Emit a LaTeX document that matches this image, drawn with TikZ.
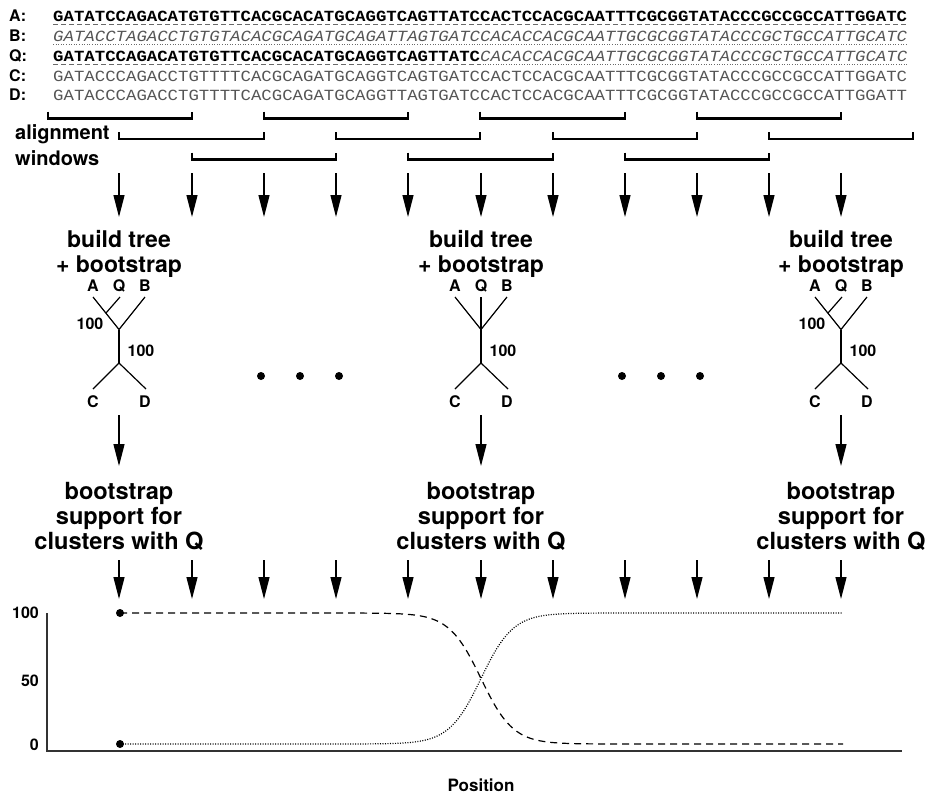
\documentclass[tikz,border=0pt]{standalone}
\usepackage{fontspec}
\usepackage{graphicx}
\setmainfont{TeX Gyre Heros}
\newfontfamily\seqfont{Liberation Mono}
\usetikzlibrary{arrows.meta}
\definecolor{seqgray}{HTML}{555555}
\definecolor{linegray}{HTML}{6A6A6A}
\definecolor{axisgray}{HTML}{333333}

\begin{document}
\begin{tikzpicture}[x=1pt,y=-1pt,
  flow/.style={line width=1.3pt,-{Triangle[length=22pt,width=11pt]}},
  win/.style={line width=2.2pt},
  branch/.style={line width=1.2pt},
  rowlabel/.style={font=\fontsize{16}{16}\selectfont\bfseries,anchor=base west,inner sep=0pt},
  seq/.style={font=\seqfont\fontsize{15.5}{15.5}\selectfont,anchor=base west,inner sep=0pt},
  tlabel/.style={font=\fontsize{16}{16}\selectfont\bfseries,inner sep=0pt},
  bigtext/.style={font=\fontsize{23}{25}\selectfont\bfseries,align=center,inner sep=0pt,anchor=north},
  suptext/.style={font=\fontsize{23.6}{25}\selectfont\bfseries,align=center,inner sep=0pt,anchor=north},
  uldash/.style={linegray,line width=0.9pt,dash pattern=on 5pt off 3pt},
  uldot/.style={linegray,line width=0.9pt,dash pattern=on 1pt off 1.6pt},
  dot/.style={circle,fill=black,inner sep=0pt,minimum size=8pt}
]
\useasboundingbox (0,0) rectangle (927,796);

% ---------- sequence rows ----------
\node[rowlabel] (lA) at (9,21)  {A:};
\node[rowlabel] (lB) at (9,41.5){B:};
\node[rowlabel] (lQ) at (9,61.5){Q:};
\node[rowlabel] (lC) at (9,81)  {C:};
\node[rowlabel] (lD) at (9,100.5){D:};

\node[seq] (sA) at (53,21) {\resizebox{854pt}{\height}{\bfseries GATATCCAGACATGTGTTCACGCACATGCAGGTCAGTTATCCACTCCACGCAATTTCGCGGTATACCCGCCGCCATTGGATC}};
\node[seq,text=seqgray] (sB) at (53,41.5) {\resizebox{854pt}{\height}{\itshape GATACCTAGACCTGTGTACACGCAGATGCAGATTAGTGATCCACACCACGCAATTGCGCGGTATACCCGCTGCCATTGCATC}};
\node[seq] (sQ) at (53,61.5) {\resizebox{854pt}{\height}{\bfseries GATATCCAGACATGTGTTCACGCACATGCAGGTCAGTTATC\mdseries\itshape\color{seqgray}CACACCACGCAATTGCGCGGTATACCCGCTGCCATTGCATC}};
\node[seq,text=seqgray] (sC) at (53,81) {\resizebox{854pt}{\height}{GATACCCAGACCTGTTTTCACGCAGATGCAGGTCAGTGATCCACTCCACGCAATTTCGCGGTATACCCGCCGCCATTGGATC}};
\node[seq,text=seqgray] (sD) at (53,100.5) {\resizebox{854pt}{\height}{GATACCCAGACCTGTTTTCACGCAGATGCAGGTTAGTGATCCACTCCACGCAATTTCGCGGTATACCCGCCGCCATTGGATT}};

% underlines marking the origin of each stretch
\draw[uldash] (53,24) -- (907,24);
\draw[uldot]  (53,44.5) -- (907,44.5);
\draw[uldash] (53,64.5) -- (480,64.5);
\draw[uldot]  (480,64.5) -- (907,64.5);

% ---------- alignment windows ----------
\node[font=\fontsize{20}{26}\selectfont\bfseries,align=left,inner sep=0pt,anchor=north west] (winlabel) at (15,124) {alignment\\windows};
\foreach \a/\b/\y in {48/192/118.5, 264/408/118.5, 480/625/118.5, 697/841/118.5,
                      119/264/139, 336/480/139, 553/697/139, 769/913/139,
                      192/336/159.5, 408/553/159.5, 625/769/159.5}
  \draw[win] (\a,\y-7) -- (\a,\y) -- (\b,\y) -- (\b,\y-7);

% ---------- arrows from windows and into the plot ----------
\foreach \x [count=\i] in {119,192,264,336,408,481,553,625,697,769,841} {
  \coordinate (wa\i) at (\x,173);
  \coordinate (wb\i) at (\x,217);
  \draw[flow] (wa\i) -- (wb\i);
  \coordinate (pa\i) at (\x,560);
  \coordinate (pb\i) at (\x,599);
  \draw[flow] (pa\i) -- (pb\i);
}

% ---------- tree-building steps ----------
\foreach \cx/\n in {119/1,481/2,841/3} {
  \node[bigtext] (build\n) at (\cx,230) {build tree\\+ bootstrap};
  \node[suptext] (supp\n) at (\cx,482) {bootstrap\\support for\\clusters with Q};
  \coordinate (ta\n) at (\cx,415);
  \coordinate (tb\n) at (\cx,466);
  \draw[flow] (ta\n) -- (tb\n);
  % common lower part of each tree
  \coordinate (top\n) at (\cx,329.5);
  \coordinate (bot\n) at (\cx,363);
  \coordinate (lc\n) at (\cx-26,389);
  \coordinate (ld\n) at (\cx+27,389);
  \draw[branch] (top\n) -- (bot\n);
  \draw[branch] (bot\n) -- (lc\n);
  \draw[branch] (bot\n) -- (ld\n);
  \node[tlabel] (C\n) at (\cx-26,402) {C};
  \node[tlabel] (D\n) at (\cx+26,402) {D};
  \node[tlabel] (A\n) at (\cx-26,286) {A};
  \node[tlabel] (Q\n) at (\cx,286) {Q};
  \node[tlabel] (B\n) at (\cx+26,286) {B};
  \coordinate (la\n) at (\cx-26,297);
  \coordinate (lb\n) at (\cx+26,297);
  \draw[branch] (la\n) -- (top\n);
  \draw[branch] (lb\n) -- (top\n);
  \node[tlabel] (s\n) at (\cx+22,351) {100};
}
% trees where Q groups with A
\foreach \cx/\n in {119/1,841/3} {
  \coordinate (lq\n) at (\cx+1,297);
  \coordinate (aq\n) at (\cx-13,313);
  \draw[branch] (lq\n) -- (aq\n);
  \node[tlabel] (r\n) at (\cx-29,324) {100};
}
% tree where Q is unresolved
\coordinate (lq2) at (481,297);
\draw[branch] (lq2) -- (top2);

% ellipses between the trees
\foreach \x [count=\i] in {261,300,339,622,661,700}
  \node[dot,minimum size=8pt] (e\i) at (\x,376) {};

% ---------- support plot ----------
\coordinate (yt) at (47,613);
\coordinate (o) at (47,751);
\coordinate (xe) at (902,751);
\draw[axisgray,line width=1.6pt] (yt) -- (o) -- (xe);
\node[tlabel,anchor=east] (y100) at (39,613) {100};
\node[tlabel,anchor=east] (y50) at (39,681) {50};
\node[tlabel,anchor=east] (y0) at (39,745) {0};
\node[font=\fontsize{17}{17}\selectfont\bfseries,inner sep=0pt] (xl) at (481,785) {Position};

\node[dot] (d100) at (120,613) {};
\node[dot] (d0) at (120,744) {};
\draw[line width=1.2pt,dash pattern=on 7pt off 5pt]
  (d100.center) -- plot[domain=121:843,samples=320] (\x,{613+131/(1+exp(min(max(-(\x-481)/16,-9),9)))});
\draw[line width=1.2pt,dash pattern=on 1pt off 1.5pt]
  (d0.center) -- plot[domain=121:843,samples=320] (\x,{744-131/(1+exp(min(max(-(\x-481)/16,-9),9)))});
\end{tikzpicture}
\end{document}
